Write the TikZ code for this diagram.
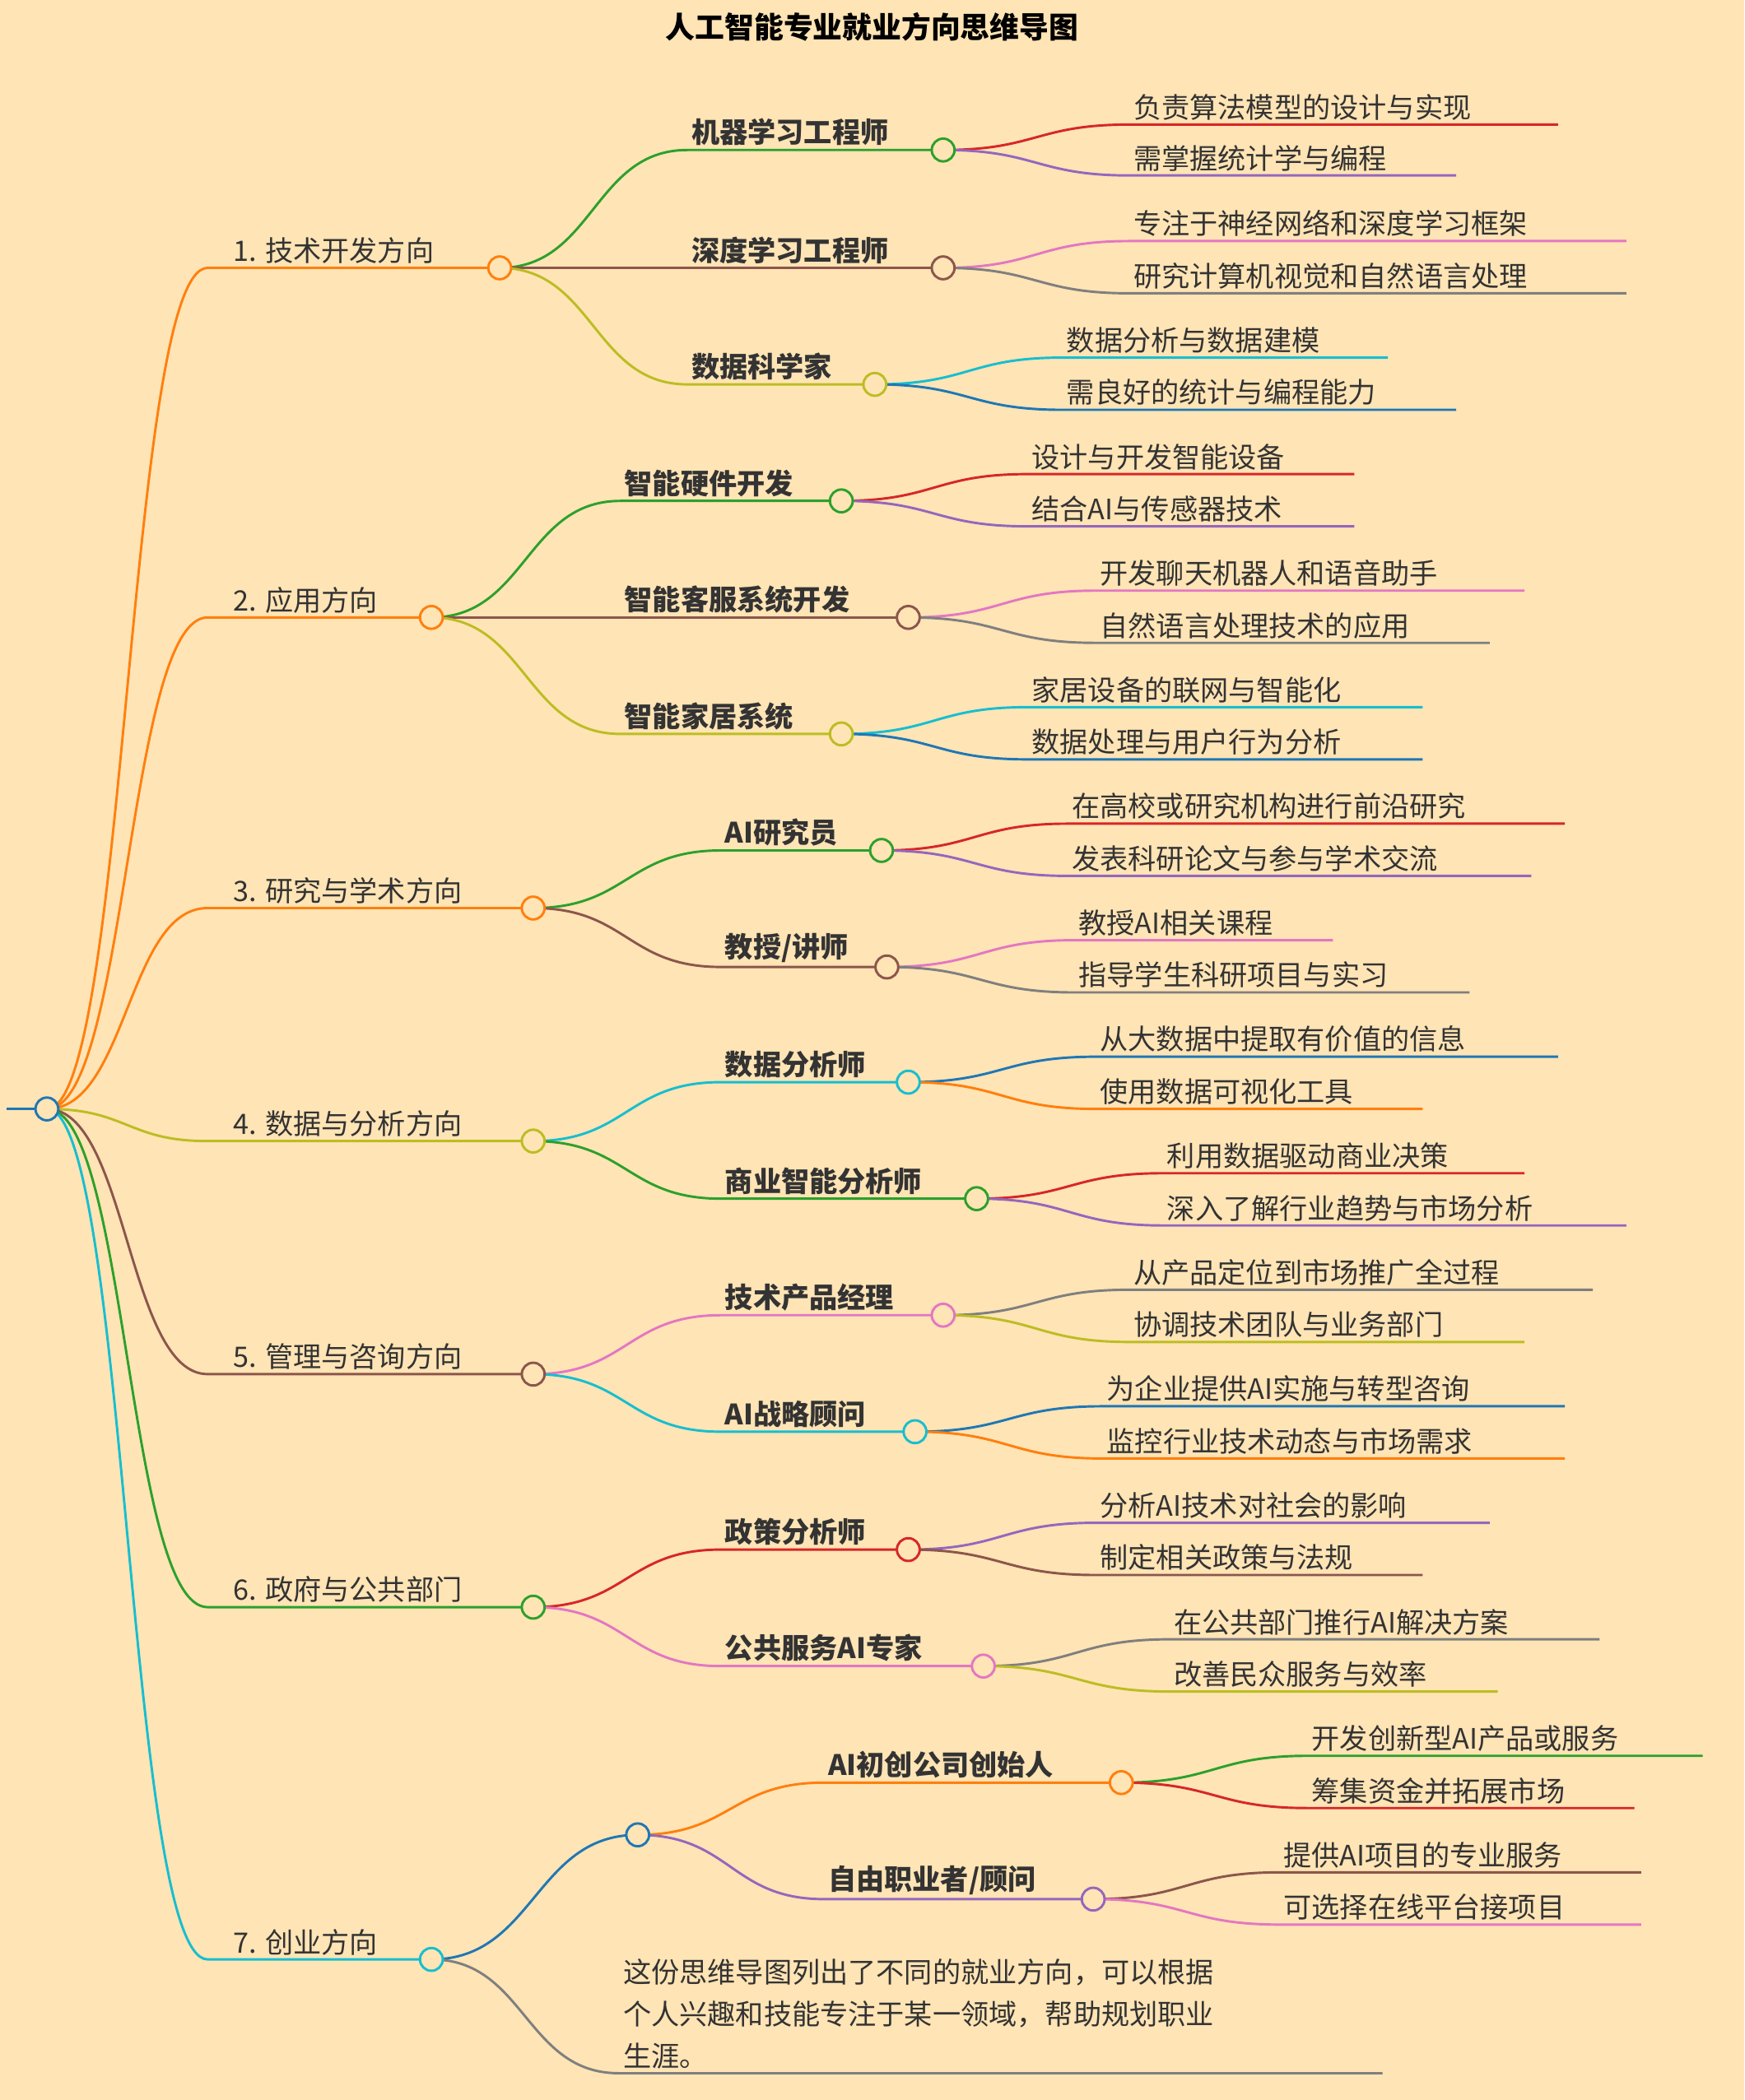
\documentclass[tikz,border=0pt]{standalone}
\usepackage{fontspec}
\setmainfont{Noto Sans CJK SC}
\definecolor{bg}{HTML}{FFE4B5}
\definecolor{cO}{HTML}{FF7F0E}\definecolor{cG}{HTML}{2CA02C}\definecolor{cR}{HTML}{D62728}
\definecolor{cP}{HTML}{9467BD}\definecolor{cB}{HTML}{8C564B}\definecolor{cK}{HTML}{E377C2}
\definecolor{cY}{HTML}{7F7F7F}\definecolor{cL}{HTML}{BCBD22}\definecolor{cC}{HTML}{17BECF}
\definecolor{cU}{HTML}{1F77B4}\definecolor{tx}{HTML}{333333}
\tikzset{
 edge/.style={line width=1.8pt},
 lbl/.style={anchor=south west,inner sep=3pt,text=tx,font=\fontsize{21}{25}\selectfont},
 l2/.style={lbl,font=\fontsize{21}{25}\selectfont\bfseries},
 dot/.style={circle,draw,line width=1.8pt,fill=bg,minimum size=17pt,inner sep=0pt}
}
\newcommand\br[8]{%
 \pgfmathsetmacro\mx{(#1+#3)/2}%
 \draw[edge,#6] (#1,#2) .. controls (\mx,#2) and (\mx,#5) .. (#3,#5) -- (#4,#5);
 \node[#7] at (#3,#5) {#8};}
\newcommand\dt[3]{\node[dot,draw=#3] at (#1,#2) {};}
\begin{document}
\begin{tikzpicture}[x=1pt,y=-1pt]
\fill[bg] (0,0) rectangle (1302,1568);
\useasboundingbox (0,0) rectangle (1302,1568);
\node[font=\fontsize{22}{26}\selectfont\bfseries,text=black] (title) at (651,20) {人工智能专业就业方向思维导图};
\draw[edge,cU] (5,828) -- (35,828);
% level 1
\br{35}{828}{155}{373}{200}{cO}{lbl,xshift=16pt}{1. 技术开发方向}
\br{35}{828}{155}{322}{461}{cO}{lbl,xshift=16pt}{2. 应用方向}
\br{35}{828}{155}{398}{678}{cO}{lbl,xshift=16pt}{3. 研究与学术方向}
\br{35}{828}{155}{398}{852}{cL}{lbl,xshift=16pt}{4. 数据与分析方向}
\br{35}{828}{155}{398}{1026}{cB}{lbl,xshift=16pt}{5. 管理与咨询方向}
\br{35}{828}{155}{398}{1200}{cG}{lbl,xshift=16pt}{6. 政府与公共部门}
\br{35}{828}{155}{322}{1463}{cC}{lbl,xshift=16pt}{7. 创业方向}
% 1
\br{373}{200}{513}{704}{112}{cG}{l2}{机器学习工程师}
\br{373}{200}{513}{704}{200}{cB}{l2}{深度学习工程师}
\br{373}{200}{513}{653}{287}{cL}{l2}{数据科学家}
\br{704}{112}{843}{1163}{93}{cR}{lbl}{负责算法模型的设计与实现}
\br{704}{112}{843}{1087}{131}{cP}{lbl}{需掌握统计学与编程}
\br{704}{200}{843}{1214}{180}{cK}{lbl}{专注于神经网络和深度学习框架}
\br{704}{200}{843}{1214}{219}{cY}{lbl}{研究计算机视觉和自然语言处理}
\br{653}{287}{793}{1036}{267}{cC}{lbl}{数据分析与数据建模}
\br{653}{287}{793}{1087}{306}{cU}{lbl}{需良好的统计与编程能力}
% 2
\br{322}{461}{463}{628}{374}{cG}{l2}{智能硬件开发}
\br{322}{461}{463}{678}{461}{cB}{l2}{智能客服系统开发}
\br{322}{461}{463}{628}{548}{cL}{l2}{智能家居系统}
\br{628}{374}{767}{1011}{354}{cR}{lbl}{设计与开发智能设备}
\br{628}{374}{767}{1011}{393}{cP}{lbl}{结合AI与传感器技术}
\br{678}{461}{818}{1138}{441}{cK}{lbl}{开发聊天机器人和语音助手}
\br{678}{461}{818}{1112}{480}{cY}{lbl}{自然语言处理技术的应用}
\br{628}{548}{767}{1062}{528}{cC}{lbl}{家居设备的联网与智能化}
\br{628}{548}{767}{1062}{567}{cU}{lbl}{数据处理与用户行为分析}
% 3
\br{398}{678}{538}{658}{635}{cG}{l2}{AI研究员}
\br{398}{678}{538}{662}{722}{cB}{l2}{教授/讲师}
\br{658}{635}{797}{1168}{615}{cR}{lbl}{在高校或研究机构进行前沿研究}
\br{658}{635}{797}{1143}{654}{cP}{lbl}{发表科研论文与参与学术交流}
\br{662}{722}{802}{995}{702}{cK}{lbl}{教授AI相关课程}
\br{662}{722}{802}{1097}{741}{cY}{lbl}{指导学生科研项目与实习}
% 4
\br{398}{852}{538}{678}{808}{cC}{l2}{数据分析师}
\br{398}{852}{538}{729}{895}{cG}{l2}{商业智能分析师}
\br{678}{808}{818}{1163}{789}{cU}{lbl}{从大数据中提取有价值的信息}
\br{678}{808}{818}{1062}{828}{cO}{lbl}{使用数据可视化工具}
\br{729}{895}{868}{1138}{876}{cR}{lbl}{利用数据驱动商业决策}
\br{729}{895}{868}{1214}{915}{cP}{lbl}{深入了解行业趋势与市场分析}
% 5
\br{398}{1026}{538}{704}{982}{cK}{l2}{技术产品经理}
\br{398}{1026}{538}{683}{1069}{cC}{l2}{AI战略顾问}
\br{704}{982}{843}{1189}{963}{cY}{lbl}{从产品定位到市场推广全过程}
\br{704}{982}{843}{1138}{1002}{cL}{lbl}{协调技术团队与业务部门}
\br{683}{1069}{823}{1168}{1050}{cU}{lbl}{为企业提供AI实施与转型咨询}
\br{683}{1069}{823}{1168}{1089}{cO}{lbl}{监控行业技术动态与市场需求}
% 6
\br{398}{1200}{538}{678}{1157}{cR}{l2}{政策分析师}
\br{398}{1200}{538}{734}{1244}{cK}{l2}{公共服务AI专家}
\br{678}{1157}{818}{1112}{1137}{cP}{lbl}{分析AI技术对社会的影响}
\br{678}{1157}{818}{1062}{1176}{cB}{lbl}{制定相关政策与法规}
\br{734}{1244}{873}{1194}{1224}{cY}{lbl}{在公共部门推行AI解决方案}
\br{734}{1244}{873}{1118}{1263}{cL}{lbl}{改善民众服务与效率}
% 7
\pgfmathsetmacro\mx{(322+476)/2}
\draw[edge,cU] (322,1463) .. controls (\mx,1463) and (\mx,1370) .. (476,1370);
\br{476}{1370}{615}{837}{1331}{cO}{l2}{AI初创公司创始人}
\br{476}{1370}{615}{816}{1418}{cP}{l2}{自由职业者/顾问}
\br{837}{1331}{976}{1271}{1311}{cG}{lbl}{开发创新型AI产品或服务}
\br{837}{1331}{976}{1220}{1350}{cR}{lbl}{筹集资金并拓展市场}
\br{816}{1418}{955}{1225}{1398}{cB}{lbl}{提供AI项目的专业服务}
\br{816}{1418}{955}{1225}{1437}{cK}{lbl}{可选择在线平台接项目}
\br{322}{1463}{462}{1032}{1548}{cY}{lbl,anchor=south west,align=left,text width=560pt,font=\fontsize{21}{31.5}\selectfont}{这份思维导图列出了不同的就业方向，可以根据\\个人兴趣和技能专注于某一领域，帮助规划职业\\生涯。}
% dots
\dt{35}{828}{cU}
\dt{373}{200}{cO}\dt{322}{461}{cO}\dt{398}{678}{cO}\dt{398}{852}{cL}
\dt{398}{1026}{cB}\dt{398}{1200}{cG}\dt{322}{1463}{cC}
\dt{704}{112}{cG}\dt{704}{200}{cB}\dt{653}{287}{cL}
\dt{628}{374}{cG}\dt{678}{461}{cB}\dt{628}{548}{cL}
\dt{658}{635}{cG}\dt{662}{722}{cB}
\dt{678}{808}{cC}\dt{729}{895}{cG}
\dt{704}{982}{cK}\dt{683}{1069}{cC}
\dt{678}{1157}{cR}\dt{734}{1244}{cK}
\dt{476}{1370}{cU}\dt{837}{1331}{cO}\dt{816}{1418}{cP}
\end{tikzpicture}
\end{document}
